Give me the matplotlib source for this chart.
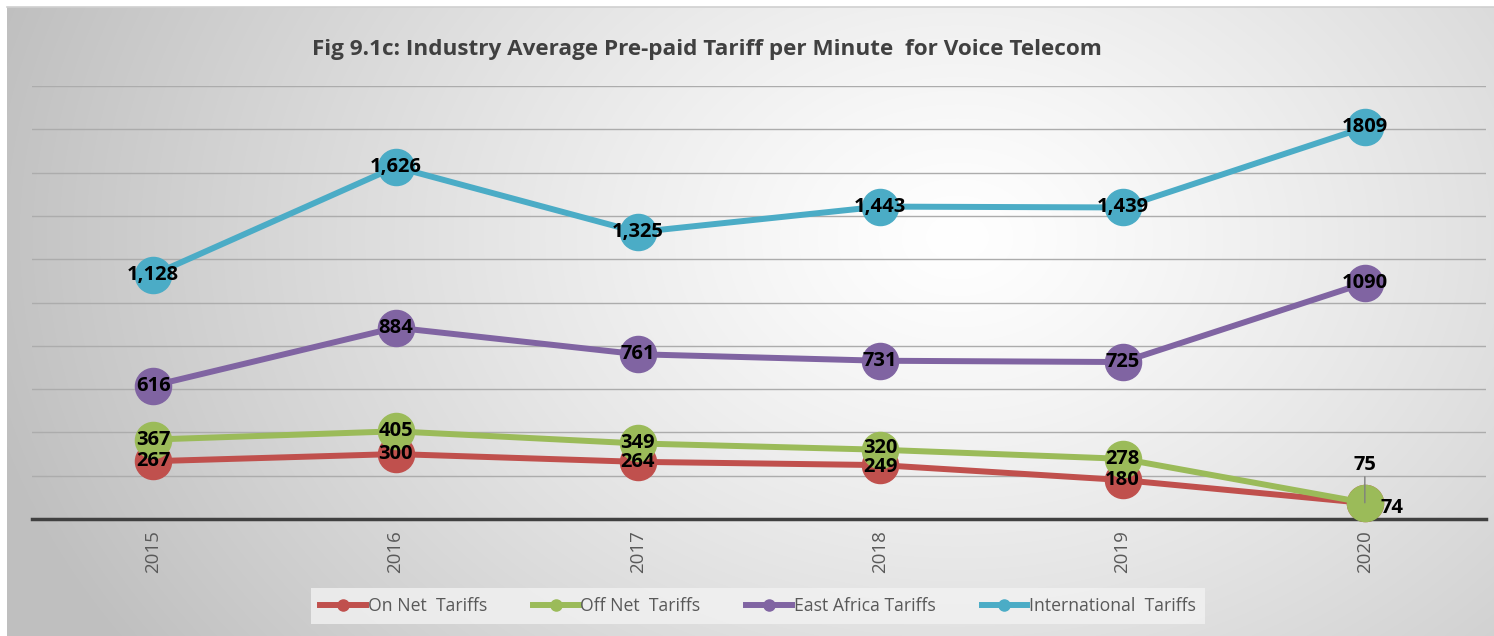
import numpy as np
import matplotlib
matplotlib.use("Agg")
import matplotlib.pyplot as plt
from matplotlib.lines import Line2D

years = ["2015", "2016", "2017", "2018", "2019", "2020"]
on_net = [267, 300, 264, 249, 180, 74]
off_net = [367, 405, 349, 320, 278, 75]
east_africa = [616, 884, 761, 731, 725, 1090]
international = [1128, 1626, 1325, 1443, 1439, 1809]

on_net_labels = ["267", "300", "264", "249", "180", "74"]
off_net_labels = ["367", "405", "349", "320", "278", "75"]
east_africa_labels = ["616", "884", "761", "731", "725", "1090"]
international_labels = ["1,128", "1,626", "1,325", "1,443", "1,439", "1809"]

series_names = ["On Net  Tariffs", "Off Net  Tariffs", "East Africa Tariffs", "International  Tariffs"]
colors = ["#c0504d", "#9bbb59", "#8064a2", "#4bacc6"]

title = "Fig 9.1c: Industry Average Pre-paid Tariff per Minute  for Voice Telecom"

W, H = 1494, 636
fig = plt.figure(figsize=(W / 100, H / 100), dpi=100)
fig.patch.set_facecolor("white")

# background panel with radial gradient
bg = fig.add_axes([7 / W, 0, 1 - 7 / W, 1 - 7 / H])
bg.set_axis_off()
yy, xx = np.mgrid[0:H - 7, 0:W - 7]
cx, cy = 950, 230
d = np.sqrt(((xx - cx) / 1.0) ** 2 + ((yy - cy) / 0.75) ** 2)
d = np.clip(d / 1000.0, 0, 1)
val = 1.0 - 0.25 * d ** 1.2
img = np.dstack([val, val, val])
bg.imshow(img, aspect="auto", interpolation="bilinear")
bg.set_zorder(0)
fig.add_artist(Line2D([7 / W, 1], [1 - 7 / H, 1 - 7 / H], color="#d0d0d0", lw=1.2))

left, right = 32, 1486
top, bottom = 86, 519
ax = fig.add_axes([left / W, (H - bottom) / H, (right - left) / W, (bottom - top) / H])
ax.set_zorder(1)
ax.patch.set_alpha(0)
x = np.arange(len(years))
ax.set_xlim(-0.5, len(years) - 0.5)
ax.set_ylim(0, 2000)
ax.set_yticks(np.arange(200, 2001, 200))
ax.yaxis.grid(True, color="#acacac", lw=1.0)
ax.tick_params(axis="y", left=False, labelleft=False)
for s in ["left", "right", "top"]:
    ax.spines[s].set_visible(False)
ax.spines["bottom"].set_color("#404040")
ax.spines["bottom"].set_linewidth(2.5)
ax.set_xticks(x)
ax.set_xticklabels(years, rotation=90, fontsize=13.5, color="#595959", family="Open Sans")
ax.tick_params(axis="x", length=0, pad=8)

all_vals = [on_net, off_net, east_africa, international]
all_labels = [on_net_labels, off_net_labels, east_africa_labels, international_labels]
for i, (vals, col) in enumerate(zip(all_vals, colors)):
    ax.plot(x, vals, color=col, lw=4.3, marker="o", markersize=26,
            markerfacecolor=col, markeredgecolor=col, zorder=2 + i, clip_on=False)

# label offsets in pixels (dx, dy up)
offsets = {(0, 5): (27, -5), (1, 5): (0, 38), (0, 3): (0, -2), (1, 3): (0, 2)}
for i, (vals, labs) in enumerate(zip(all_vals, all_labels)):
    for j, (v, lab) in enumerate(zip(vals, labs)):
        dx, dy = offsets.get((i, j), (0, 0))
        ax.annotate(lab, (x[j], v), xytext=(dx * 0.72, dy * 0.72), textcoords="offset points",
                    ha="center", va="center", fontsize=14.5, fontweight="bold",
                    color="black", family="Open Sans", zorder=10, annotation_clip=False)

# leader line for the 2020 Off Net label
ax.annotate("", xy=(x[5], off_net[5]), xytext=(0, 26 * 0.72), textcoords="offset points",
            arrowprops=dict(arrowstyle="-", color="#7f7f7f", lw=1.0, shrinkA=0, shrinkB=0),
            zorder=11)

fig.text(707 / W, 1 - 50 / H, title, ha="center", va="center", fontsize=16.2,
         fontweight="bold", color="#404040", family="Open Sans", zorder=5)

# legend
handles = [Line2D([0], [0], color=c, lw=4.3, marker="o", markersize=8, markerfacecolor=c,
                  markeredgecolor=c) for c in colors]
leg = fig.legend(handles, series_names, loc="center", bbox_to_anchor=(758 / W, 1 - 606 / H),
                 ncol=4, frameon=True, fontsize=12.7, handlelength=2.6, columnspacing=2.6,
                 handletextpad=0.1, borderpad=0.5)
leg.get_frame().set_facecolor("#f2f2f2")
leg.get_frame().set_edgecolor("none")
leg.get_frame().set_boxstyle("square", pad=0)
for t in leg.get_texts():
    t.set_color("#595959")
    t.set_family("Open Sans")
leg.set_zorder(6)

fig.savefig("out.png", dpi=100)
